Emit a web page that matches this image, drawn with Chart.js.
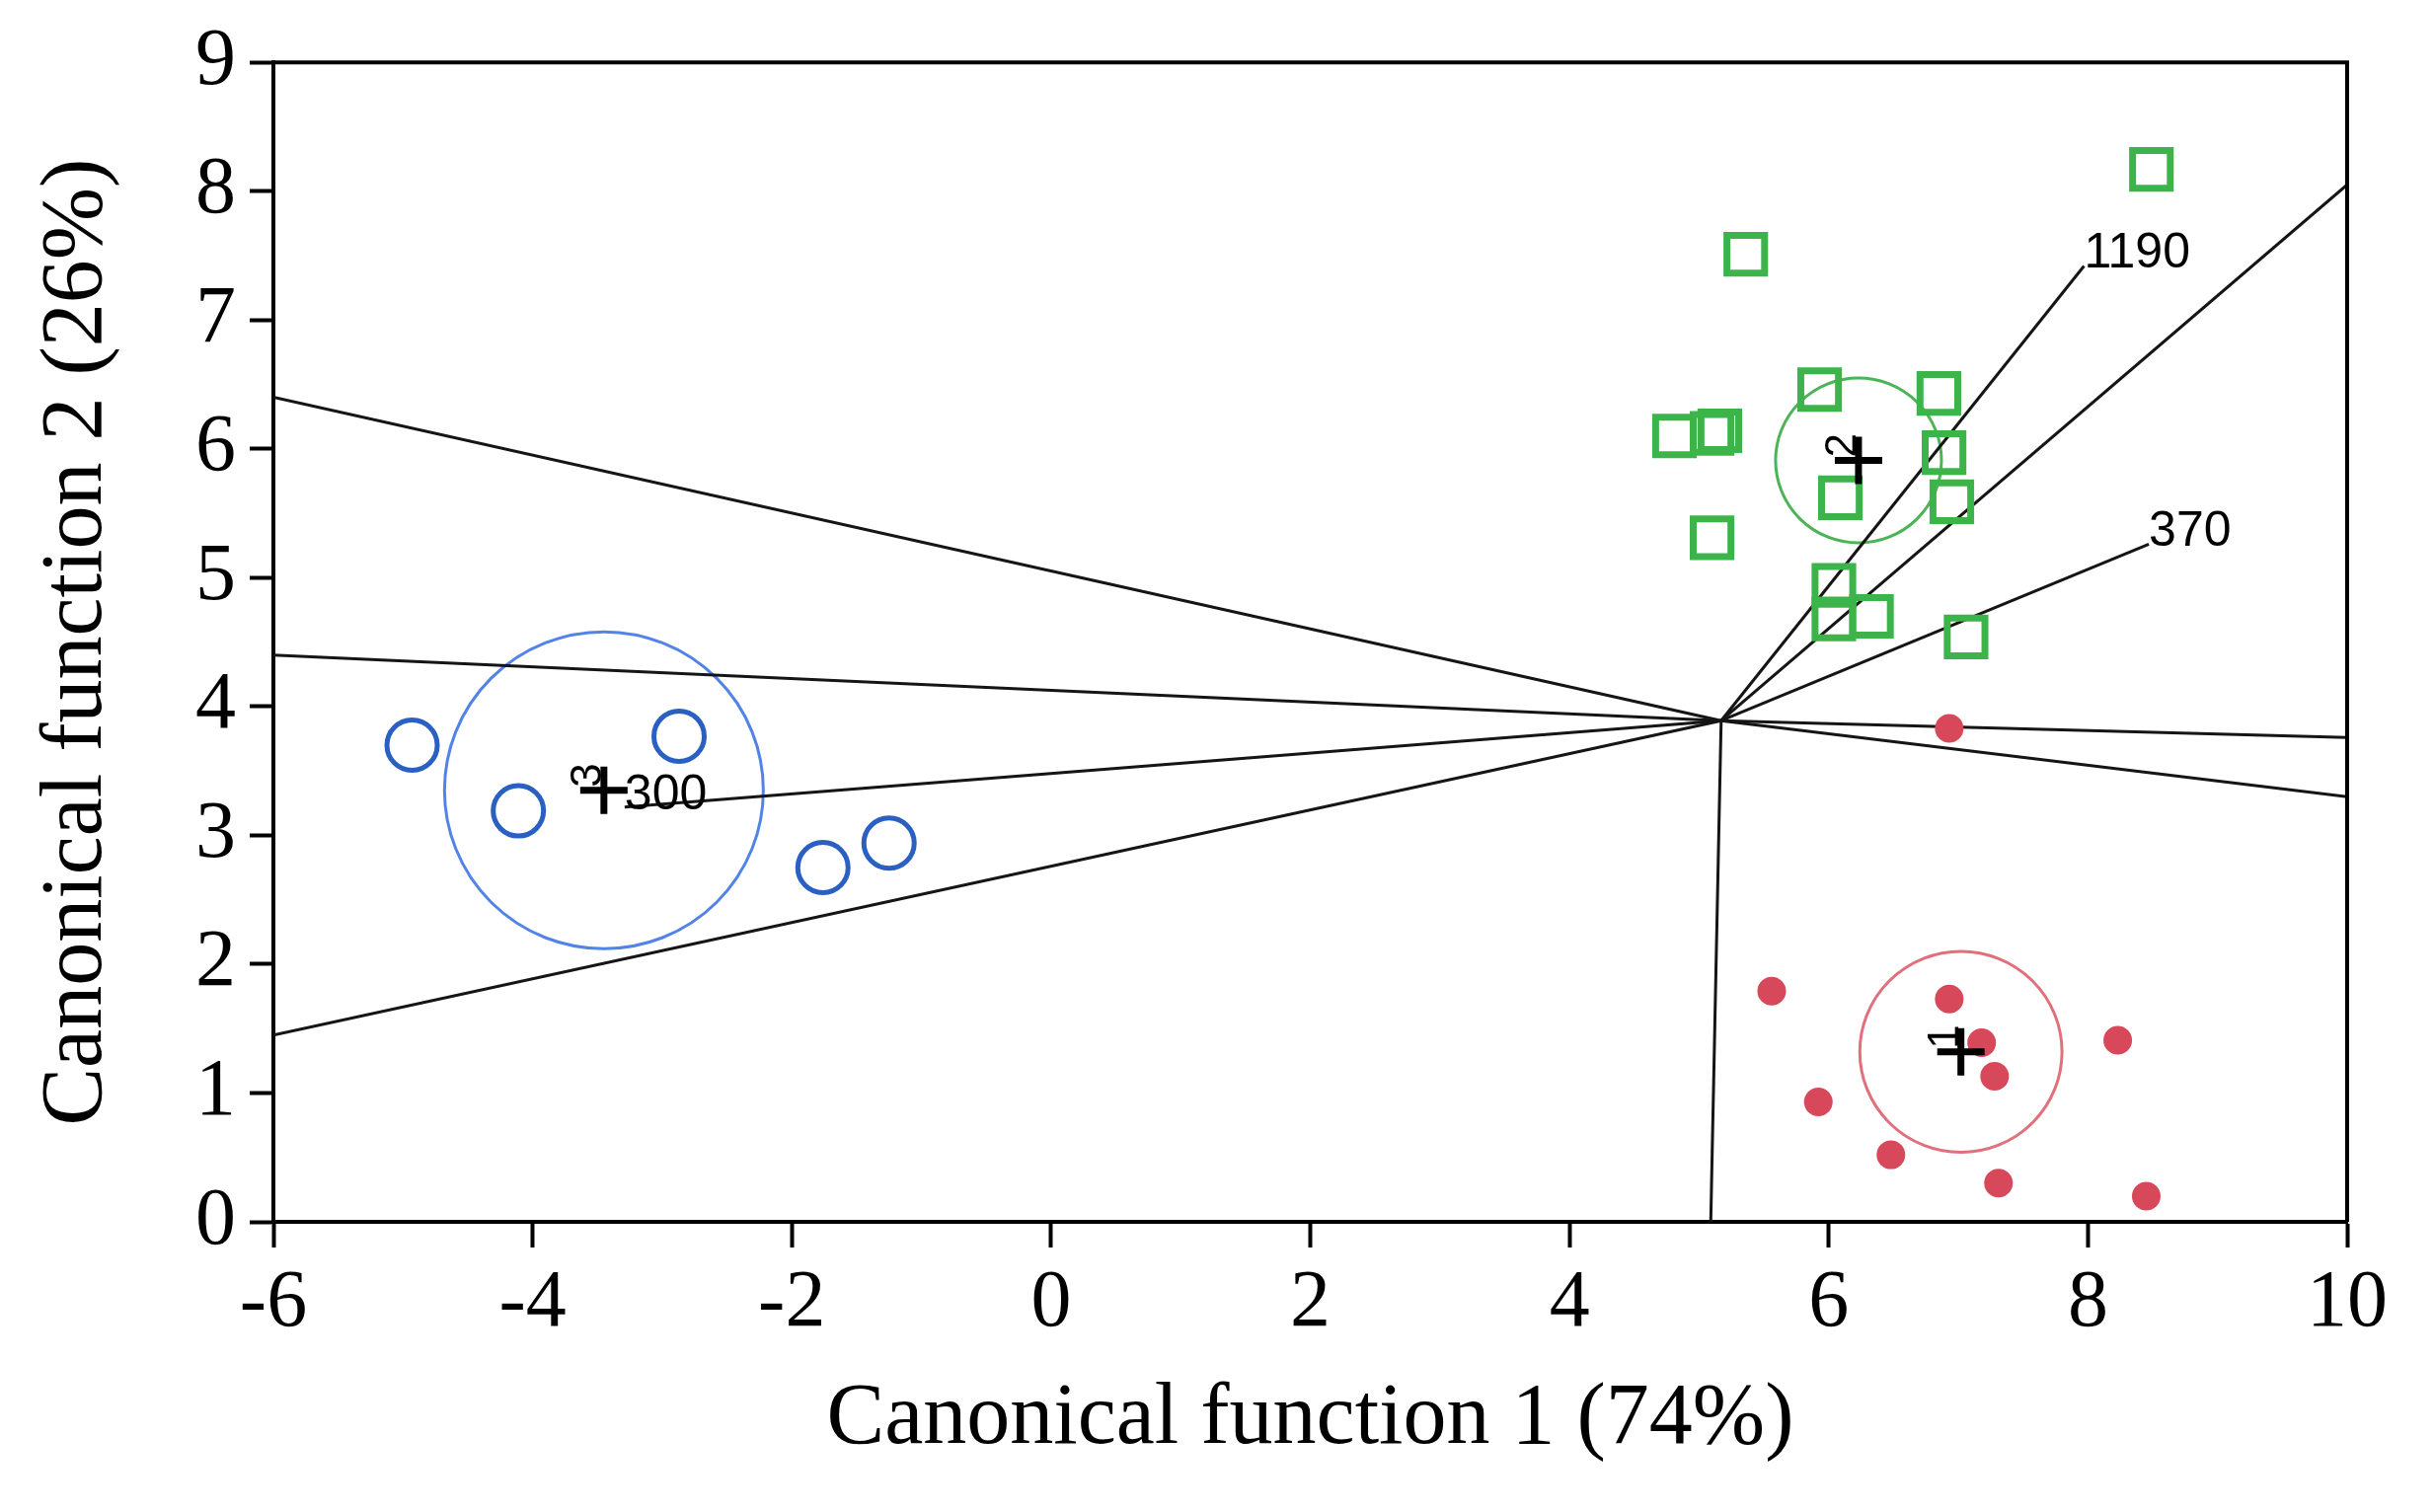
<!DOCTYPE html>
<html>
<head>
<meta charset="utf-8">
<title>Canonical discriminant functions</title>
<script src="https://cdn.jsdelivr.net/npm/chart.js@4.4.1/dist/chart.umd.min.js"></script>
<style>
  html, body { margin: 0; padding: 0; background: #fff; }
  #chart { display: block; }
</style>
</head>
<body>
<canvas id="chart" width="2466" height="1532"></canvas>
<script>
// --- Data ---
const xTicks = [-6, -4, -2, 0, 2, 4, 6, 8, 10];
const yTicks = [0, 1, 2, 3, 4, 5, 6, 7, 8, 9];

// group 1 (red dots)
const group1X = [5.56, 6.93, 7.18, 8.23, 7.28, 5.92, 6.48, 7.31, 8.45, 6.93];
const group1Y = [1.79, 1.73, 1.39, 1.41, 1.13, 0.93, 0.52, 0.30, 0.20, 3.83];

// group 2 (green squares)
const group2X = [8.49, 5.36, 5.93, 6.85, 4.81, 5.10, 5.16, 6.89, 6.09, 6.95, 5.10, 6.04, 6.04, 6.33, 7.06];
const group2Y = [8.17, 7.51, 6.46, 6.43, 6.10, 6.12, 6.14, 5.97, 5.62, 5.59, 5.31, 4.94, 4.68, 4.70, 4.54];

// group 3 (blue circles)
const group3X = [-4.93, -4.11, -2.87, -1.76, -1.25];
const group3Y = [3.70, 3.19, 3.77, 2.75, 2.94];

// group centroids and their circles
const centroidLabels = ['1', '2', '3'];
const centroidX = [7.02, 6.23, -3.45];
const centroidY = [1.32, 5.91, 3.35];
const centroidRadius = [0.78, 0.64, 1.23];

// territory boundaries, all from one hub point
const hubX = 5.17;
const hubY = 3.89;
const boundaryEndX = [-6, -6, -6, 5.09, 10, 10, 10];
const boundaryEndY = [6.40, 4.40, 1.45, 0, 3.76, 3.30, 8.05];

// labelled vectors
const vectorLabels = ['300', '1190', '370'];
const vectorEndX = [-3.29, 7.97, 8.47];
const vectorEndY = [3.22, 7.42, 5.26];

const groupColors = ['#d6485a', '#3cb44a', '#2a60c2'];
const ringColors = ['#e0707c', '#4cb456', '#5283e6'];

const toPoints = (xs, ys) => xs.map((x, i) => ({ x, y: ys[i] }));

// --- Datasets ---
const datasets = [
  {
    label: 'Centroids',
    data: toPoints(centroidX, centroidY),
    pointStyle: 'cross',
    pointRadius: 24,
    borderColor: '#000',
    borderWidth: 7,
  },
  {
    label: '1',
    data: toPoints(group1X, group1Y),
    pointStyle: 'circle',
    pointRadius: 14.5,
    backgroundColor: groupColors[0],
    borderColor: groupColors[0],
    borderWidth: 0,
  },
  {
    label: '2',
    data: toPoints(group2X, group2Y),
    pointStyle: 'rect',
    pointRadius: 27,
    backgroundColor: 'rgba(0,0,0,0)',
    borderColor: groupColors[1],
    borderWidth: 7,
  },
  {
    label: '3',
    data: toPoints(group3X, group3Y),
    pointStyle: 'circle',
    pointRadius: 25.5,
    backgroundColor: 'rgba(0,0,0,0)',
    borderColor: groupColors[2],
    borderWidth: 5,
  },
];

boundaryEndX.forEach((x, i) => {
  datasets.push({
    label: 'boundary ' + i,
    data: [{ x: hubX, y: hubY }, { x, y: boundaryEndY[i] }],
    showLine: true,
    pointRadius: 0,
    borderColor: '#151515',
    borderWidth: 3,
  });
});

vectorEndX.forEach((x, i) => {
  datasets.push({
    label: 'vector ' + vectorLabels[i],
    data: [{ x: hubX, y: hubY }, { x, y: vectorEndY[i] }],
    showLine: true,
    pointRadius: 0,
    borderColor: '#151515',
    borderWidth: 3,
  });
});

// --- Plugins ---
// group circles, drawn under the markers
const ringsPlugin = {
  id: 'rings',
  beforeDatasetsDraw(chart) {
    const { ctx, scales: { x, y } } = chart;
    ctx.save();
    centroidX.forEach((cx, i) => {
      const px = x.getPixelForValue(cx);
      const py = y.getPixelForValue(centroidY[i]);
      const rx = Math.abs(x.getPixelForValue(cx + centroidRadius[i]) - px);
      const ry = Math.abs(y.getPixelForValue(centroidY[i] + centroidRadius[i]) - py);
      ctx.beginPath();
      ctx.ellipse(px, py, rx, ry, 0, 0, Math.PI * 2);
      ctx.strokeStyle = ringColors[i];
      ctx.lineWidth = 3;
      ctx.stroke();
    });
    ctx.restore();
  },
};

// rotated centroid numbers, vector labels and the top/right frame
const labelsPlugin = {
  id: 'labels',
  afterDatasetsDraw(chart) {
    const { ctx, chartArea, scales: { x, y } } = chart;
    ctx.save();
    ctx.fillStyle = '#000';
    ctx.font = '44px "Liberation Sans", Arial, sans-serif';
    ctx.textAlign = 'left';
    ctx.textBaseline = 'alphabetic';
    centroidLabels.forEach((txt, i) => {
      const px = x.getPixelForValue(centroidX[i]);
      const py = y.getPixelForValue(centroidY[i]);
      ctx.save();
      ctx.translate(px - 3, py - 3);
      ctx.rotate(-Math.PI / 2);
      ctx.fillText(txt, 0, 0);
      ctx.restore();
    });

    ctx.font = '50px "Liberation Sans", Arial, sans-serif';
    vectorLabels.forEach((txt, i) => {
      const px = x.getPixelForValue(vectorEndX[i]);
      const py = y.getPixelForValue(vectorEndY[i]);
      ctx.fillText(txt, px, py + 2);
    });

    ctx.strokeStyle = '#000';
    ctx.lineWidth = 4;
    ctx.beginPath();
    ctx.moveTo(chartArea.left, chartArea.top);
    ctx.lineTo(chartArea.right, chartArea.top);
    ctx.lineTo(chartArea.right, chartArea.bottom);
    ctx.stroke();
    ctx.restore();
  },
};

const serif = '"Liberation Serif", "Times New Roman", serif';

new Chart(document.getElementById('chart'), {
  type: 'scatter',
  data: { datasets },
  plugins: [ringsPlugin, labelsPlugin],
  options: {
    responsive: false,
    devicePixelRatio: 1,
    animation: false,
    events: [],
    layout: { padding: { top: 60, right: 88, left: 0, bottom: 0 } },
    plugins: {
      legend: { display: false },
      tooltip: { enabled: false },
    },
    scales: {
      x: {
        type: 'linear',
        min: -6,
        max: 10,
        afterBuildTicks: (scale) => { scale.ticks = xTicks.map(v => ({ value: v })); },
        afterFit: (scale) => { scale.height = 294; },
        border: { display: true, color: '#000', width: 4 },
        grid: { drawOnChartArea: false, drawTicks: true, tickLength: 26, tickWidth: 4, tickColor: '#000' },
        ticks: { color: '#000', padding: 8, font: { family: serif, size: 82 } },
        title: {
          display: true,
          text: 'Canonical function 1 (74%)',
          color: '#000',
          font: { family: serif, size: 88 },
          padding: { top: 0, bottom: 40 },
        },
      },
      y: {
        type: 'linear',
        min: 0,
        max: 9,
        afterBuildTicks: (scale) => { scale.ticks = yTicks.map(v => ({ value: v })); },
        afterFit: (scale) => { scale.width = 277; },
        border: { display: true, color: '#000', width: 4 },
        grid: { drawOnChartArea: false, drawTicks: true, tickLength: 24, tickWidth: 4, tickColor: '#000' },
        ticks: { color: '#000', padding: 14, font: { family: serif, size: 82 } },
        title: {
          display: true,
          text: 'Canonical function 2 (26%)',
          color: '#000',
          font: { family: serif, size: 88 },
          padding: { top: 26, bottom: 0 },
        },
      },
    },
  },
});
</script>
</body>
</html>
